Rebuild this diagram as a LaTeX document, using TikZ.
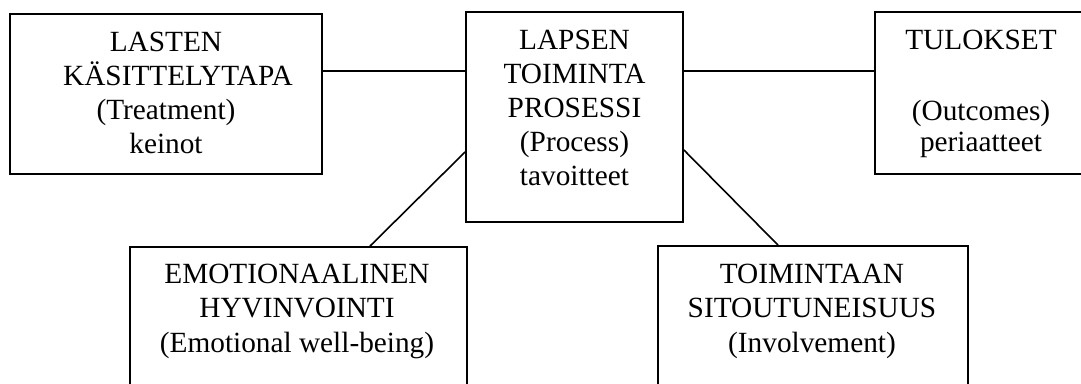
\documentclass[tikz,border=0pt]{standalone}
\usepackage{fontspec}
\setmainfont{Liberation Serif}
\begin{document}
\begin{tikzpicture}[x=1pt,y=-1pt,
  box/.style={draw,line width=1.8pt,rectangle,inner sep=0pt},
  label/.style={align=center,anchor=north,inner sep=0pt,
    font=\fontsize{29.3}{34.2}\selectfont},
  link/.style={line width=1.6pt}]
\useasboundingbox (0,0) rectangle (1081,383);
\clip (0,0) rectangle (1081,383);

% boxes
\node[box,minimum width=312pt,minimum height=160pt] (L) at (166,94) {};
\node[box,minimum width=217pt,minimum height=210pt] (C) at (574.5,117) {};
\node[box,minimum width=215pt,minimum height=162pt] (R) at (982.5,93) {};
\node[box,minimum width=337pt,minimum height=153pt] (BL) at (298.5,323.5) {};
\node[box,minimum width=310pt,minimum height=154pt] (BR) at (813,323) {};

% texts
\node[label] (Lt) at (166,31.7) {LASTEN\\\hspace*{24pt}KÄSITTELYTAPA\\(Treatment)\\keinot};
\node[label] (Ct) at (574.5,29.5) {LAPSEN\\TOIMINTA\\PROSESSI\\(Process)\\tavoitteet};
\node[label] (Rt) at (981,30.3) {TULOKSET\\[2pt]\mbox{}\\(Outcomes)\\[-3.5pt]periaatteet};
\node[label] (BLt) at (297,264) {EMOTIONAALINEN\\HYVINVOINTI\\(Emotional well-being)};
\node[label] (BRt) at (812,264) {TOIMINTAAN\\SITOUTUNEISUUS\\(Involvement)};

% connectors
\draw[link] ([yshift=23pt]L.east) -- ([yshift=23pt]L.east -| C.west);
\draw[link] ([yshift=46pt]C.east) -- ([yshift=46pt]C.east -| R.west);
\draw[link] ([yshift=-35pt]C.west) -- ([xshift=71.5pt]BL.north);
\draw[link] ([yshift=-33pt]C.east) -- ([xshift=-35pt]BR.north);
\end{tikzpicture}
\end{document}
